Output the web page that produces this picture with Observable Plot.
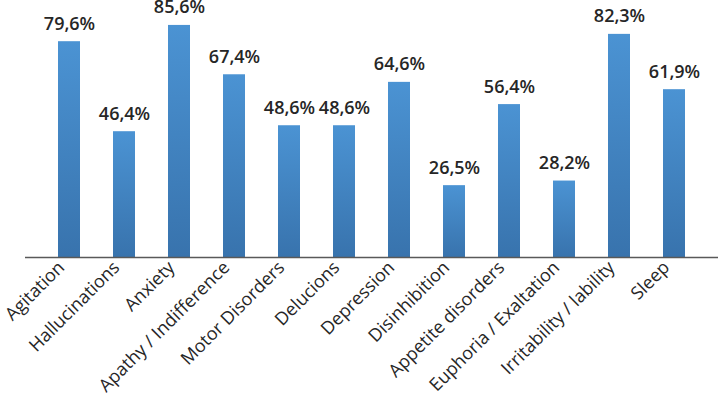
<!DOCTYPE html>
<html>
<head>
<meta charset="utf-8">
<script src="https://cdn.jsdelivr.net/npm/d3@7"></script>
<script src="https://cdn.jsdelivr.net/npm/@observablehq/plot@0.6"></script>
<style>
  html, body { margin: 0; padding: 0; background: #fff; }
  #chart svg { display: block; }
</style>
</head>
<body>
<div id="chart"></div>
<script>
const categories = ["Agitation", "Hallucinations", "Anxiety", "Apathy / Indifference", "Motor Disorders", "Delucions", "Depression", "Disinhibition", "Appetite disorders", "Euphoria / Exaltation", "Irritability / lability", "Sleep"];
const values = [79.6, 46.4, 85.6, 67.4, 48.6, 48.6, 64.6, 26.5, 56.4, 28.2, 82.3, 61.9];
const valueLabels = ["79,6%", "46,4%", "85,6%", "67,4%", "48,6%", "48,6%", "64,6%", "26,5%", "56,4%", "28,2%", "82,3%", "61,9%"];

const data = categories.map((c, i) => ({cat: c, v: values[i], label: valueLabels[i]}));

const chart = Plot.plot({
  width: 718,
  height: 401,
  marginLeft: 25,
  marginRight: 0,
  marginTop: 13,
  marginBottom: 144,
  style: {fontFamily: "'Open Sans', sans-serif", background: "#fff"},
  x: {domain: categories, padding: 0.6, label: null},
  y: {domain: [0, 90], axis: null},
  marks: [
    Plot.barY(data, {x: "cat", y: "v", fill: "url(#barGrad)"}),
    Plot.ruleY([0], {stroke: "#595959", strokeWidth: 1.5}),
    Plot.text(data, {x: "cat", y: "v", text: "label", lineAnchor: "bottom", dy: -12, fontSize: 18, fontWeight: 600, fill: "#262626"}),
    Plot.axisX({tickRotate: -45, tickSize: 0, tickPadding: 4, dx: -8, dy: 3, fontSize: 18, fill: "#262626", label: null})
  ]
});

const svgNS = "http://www.w3.org/2000/svg";
const defs = document.createElementNS(svgNS, "defs");
defs.innerHTML = '<linearGradient id="barGrad" x1="0" y1="0" x2="0" y2="1"><stop offset="0" stop-color="#4b93d3"/><stop offset="1" stop-color="#3873ad"/></linearGradient>';
chart.insertBefore(defs, chart.firstChild);
document.getElementById("chart").appendChild(chart);
</script>
</body>
</html>
